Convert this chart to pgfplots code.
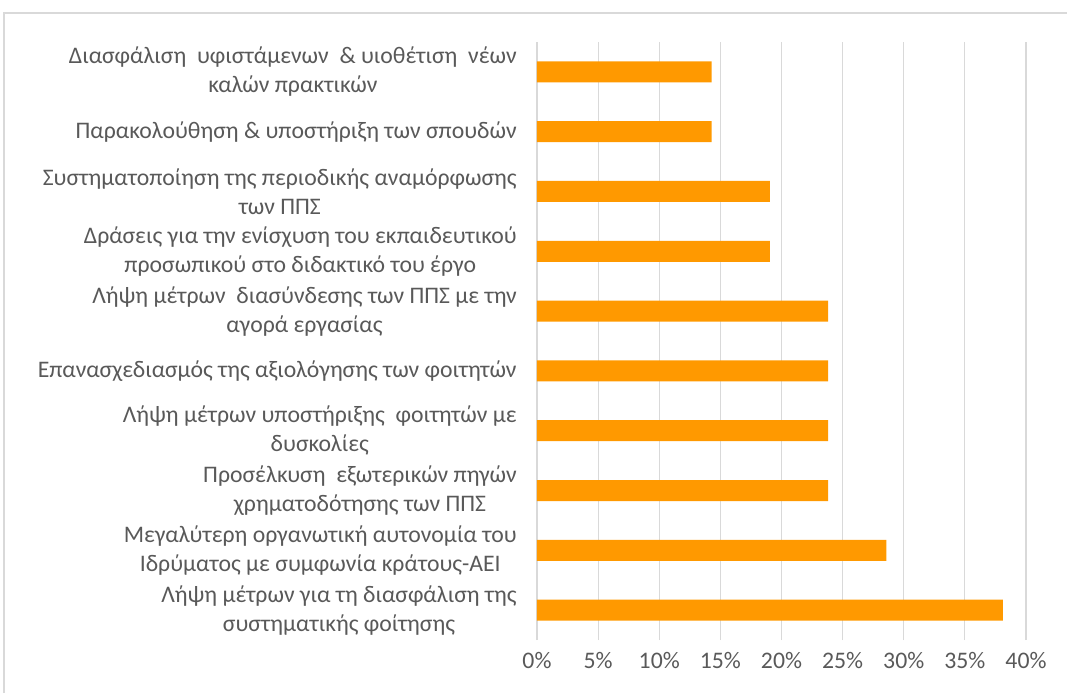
\documentclass[border=0pt]{standalone}
\usepackage{fontspec}
\setmainfont{Carlito}
\usepackage{pgfplots}
\pgfplotsset{compat=1.18}

\definecolor{barorange}{RGB}{255,153,0}
\definecolor{txtgray}{RGB}{89,89,89}
\definecolor{gridgray}{RGB}{217,217,217}

\begin{document}
\begin{tikzpicture}
\useasboundingbox (-402.75pt,-39.75pt) rectangle (397.5pt,480pt);
% outer chart frame (left and top edges visible)
\draw[gridgray, line width=1pt] (-399.75pt,-39.75pt) -- (-399.75pt,470.25pt) -- (397.5pt,470.25pt);
\begin{axis}[
    at={(0,0)}, anchor=south west,
    scale only axis,
    width=366.75pt, height=448.5pt,
    xbar, bar width=15.75pt,
    xmin=0, xmax=40,
    ymin=-0.5, ymax=9.5,
    xtick={0,5,...,40},
    xticklabel={\pgfmathprintnumber{\tick}\%},
    /pgf/number format/assume math mode=true,
    ytick={0,...,9},
    yticklabels={
        {Λήψη μέτρων για τη διασφάλιση της\\συστηματικής φοίτησης},
        {Μεγαλύτερη οργανωτική αυτονομία του\\Ιδρύματος με συμφωνία κράτους-ΑΕΙ},
        {Προσέλκυση\ \ εξωτερικών πηγών\\χρηματοδότησης των ΠΠΣ},
        {Λήψη μέτρων υποστήριξης\ \ φοιτητών με\\δυσκολίες},
        {Επανασχεδιασμός της αξιολόγησης των φοιτητών},
        {Λήψη μέτρων\ \ διασύνδεσης των ΠΠΣ με την\\αγορά εργασίας},
        {Δράσεις για την ενίσχυση του εκπαιδευτικού\\προσωπικού στο διδακτικό του έργο},
        {Συστηματοποίηση της περιοδικής αναμόρφωσης\\των ΠΠΣ},
        {Παρακολούθηση \& υποστήριξη των σπουδών},
        {Διασφάλιση\ \ υφιστάμενων\ \ \& υιοθέτιση\ \ νέων\\καλών πρακτικών}
    },
    axis line style={draw=none},
    major tick length=0pt,
    xmajorgrids, ymajorgrids=false,
    grid style={gridgray, line width=0.9pt},
    tick label style={font=\fontsize{17.8}{21.7}\selectfont, text=txtgray},
    yticklabel style={align=center, inner xsep=0pt, xshift=-15pt},
    xticklabel style={yshift=-6pt},
]
\addplot[fill=barorange, draw=none] coordinates {
    (38.10,0) (28.57,1) (23.81,2) (23.81,3) (23.81,4)
    (23.81,5) (19.05,6) (19.05,7) (14.29,8) (14.29,9)
};
\end{axis}
\end{tikzpicture}
\end{document}
